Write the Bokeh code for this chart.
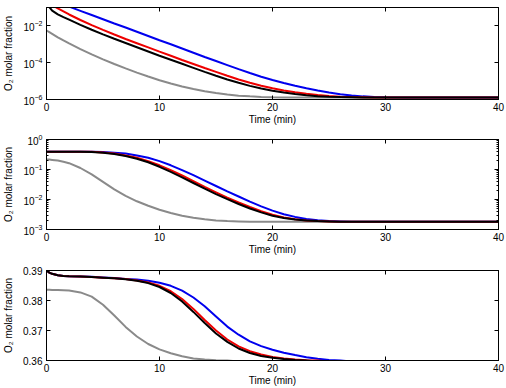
import numpy as np
from bokeh.plotting import figure
from bokeh.layouts import column
from bokeh.models import (FixedTicker, LinearAxis, LogAxis, LogTickFormatter,
                          CustomJSTickFormatter, Range1d)
from bokeh.embed import file_html
from bokeh.resources import INLINE

FONT = "Liberation Sans"

# Sample times (min)
time_min = [0, 0.25, 0.5, 1, 1.5, 2, 3, 4, 5, 6, 7, 8, 9, 10, 11, 12, 13, 14, 15,
            16, 17, 18, 19, 20, 21, 22, 23, 24, 25, 26, 27, 28, 29, 30, 32, 35, 40]

# Top panel: log10 of O2 molar fraction
top_blue = [-0.50, -0.56, -0.61, -0.73, -0.84, -0.95, -1.18, -1.41, -1.64, -1.87, -2.09,
            -2.32, -2.55, -2.78, -3.00, -3.23, -3.46, -3.69, -3.91, -4.13, -4.35, -4.56,
            -4.76, -4.94, -5.10, -5.25, -5.39, -5.51, -5.62, -5.71, -5.78, -5.83, -5.86,
            -5.88, -5.89, -5.89, -5.89]
top_red = [-0.70, -0.79, -0.87, -1.05, -1.21, -1.38, -1.68, -1.96, -2.22, -2.47, -2.71,
           -2.94, -3.17, -3.40, -3.62, -3.85, -4.07, -4.29, -4.50, -4.71, -4.91, -5.09,
           -5.25, -5.39, -5.51, -5.61, -5.69, -5.76, -5.81, -5.85, -5.87, -5.88, -5.89,
           -5.89, -5.89, -5.89, -5.89]
top_black = [-0.60, -0.98, -1.17, -1.37, -1.52, -1.66, -1.94, -2.21, -2.46, -2.70, -2.93,
             -3.16, -3.39, -3.62, -3.84, -4.06, -4.28, -4.50, -4.71, -4.91, -5.09, -5.26,
             -5.40, -5.52, -5.62, -5.70, -5.77, -5.82, -5.85, -5.87, -5.88, -5.89, -5.89,
             -5.89, -5.89, -5.89, -5.89]
top_gray = [-2.25, -2.34, -2.43, -2.62, -2.79, -2.95, -3.26, -3.55, -3.82, -4.07, -4.31,
            -4.54, -4.75, -4.95, -5.13, -5.29, -5.43, -5.55, -5.65, -5.73, -5.79, -5.83,
            -5.86, -5.88, -5.89, -5.89, -5.89, -5.89, -5.89, -5.89, -5.89, -5.89, -5.89,
            -5.89, -5.89, -5.89, -5.89]

# Middle panel: log10 of O2 molar fraction
mid_blue = [-0.41, -0.41, -0.41, -0.41, -0.41, -0.41, -0.41, -0.41, -0.42, -0.44, -0.47,
            -0.53, -0.61, -0.72, -0.86, -1.02, -1.19, -1.37, -1.55, -1.73, -1.90, -2.07,
            -2.23, -2.37, -2.49, -2.58, -2.65, -2.69, -2.72, -2.73, -2.74, -2.74, -2.74,
            -2.74, -2.74, -2.74, -2.74]
mid_red = [-0.41, -0.41, -0.41, -0.41, -0.41, -0.41, -0.41, -0.41, -0.43, -0.47, -0.53,
           -0.61, -0.72, -0.86, -1.02, -1.20, -1.39, -1.58, -1.76, -1.94, -2.10, -2.25,
           -2.39, -2.51, -2.60, -2.66, -2.70, -2.72, -2.73, -2.74, -2.74, -2.74, -2.74,
           -2.74, -2.74, -2.74, -2.74]
mid_black = [-0.41, -0.41, -0.41, -0.41, -0.41, -0.41, -0.41, -0.42, -0.44, -0.48, -0.55,
             -0.64, -0.76, -0.91, -1.08, -1.26, -1.45, -1.64, -1.82, -1.99, -2.15, -2.30,
             -2.43, -2.54, -2.62, -2.67, -2.70, -2.72, -2.73, -2.74, -2.74, -2.74, -2.74,
             -2.74, -2.74, -2.74, -2.74]
mid_gray = [-0.67, -0.67, -0.68, -0.70, -0.74, -0.79, -0.95, -1.16, -1.41, -1.66, -1.88,
            -2.06, -2.21, -2.34, -2.45, -2.54, -2.61, -2.66, -2.70, -2.72, -2.73, -2.74,
            -2.74, -2.74, -2.74, -2.74, -2.74, -2.74, -2.74, -2.74, -2.74, -2.74, -2.74,
            -2.74, -2.74, -2.74, -2.74]

# Bottom panel: O2 molar fraction
low_blue = [0.3900, 0.3893, 0.3889, 0.3884, 0.3882, 0.3881, 0.3880, 0.3879, 0.3877, 0.3875,
            0.3872, 0.3870, 0.3866, 0.3859, 0.3849, 0.3833, 0.3810, 0.3781, 0.3747, 0.3713,
            0.3686, 0.3664, 0.3648, 0.3636, 0.3626, 0.3618, 0.3611, 0.3606, 0.3602, 0.3600,
            0.3597, 0.3597, 0.3597, 0.3597, 0.3597, 0.3597, 0.3597]
low_red = [0.3900, 0.3893, 0.3889, 0.3884, 0.3882, 0.3881, 0.3880, 0.3878, 0.3876, 0.3874,
           0.3872, 0.3867, 0.3860, 0.3849, 0.3831, 0.3805, 0.3772, 0.3735, 0.3700, 0.3670,
           0.3647, 0.3631, 0.3620, 0.3612, 0.3607, 0.3603, 0.3601, 0.3600, 0.3597, 0.3597,
           0.3597, 0.3597, 0.3597, 0.3597, 0.3597, 0.3597, 0.3597]
low_black = [0.3900, 0.3893, 0.3889, 0.3884, 0.3882, 0.3881, 0.3880, 0.3878, 0.3876, 0.3874,
             0.3871, 0.3866, 0.3858, 0.3845, 0.3825, 0.3797, 0.3762, 0.3725, 0.3690, 0.3662,
             0.3640, 0.3625, 0.3615, 0.3609, 0.3605, 0.3602, 0.3600, 0.3597, 0.3597, 0.3597,
             0.3597, 0.3597, 0.3597, 0.3597, 0.3597, 0.3597, 0.3597]
low_gray = [0.3836, 0.3836, 0.3835, 0.3835, 0.3834, 0.3833, 0.3827, 0.3813, 0.3786, 0.3750,
            0.3712, 0.3680, 0.3655, 0.3637, 0.3624, 0.3614, 0.3607, 0.3603, 0.3601, 0.3600,
            0.3597, 0.3597, 0.3597, 0.3597, 0.3597, 0.3597, 0.3597, 0.3597, 0.3597, 0.3597,
            0.3597, 0.3597, 0.3597, 0.3597, 0.3597, 0.3597, 0.3597]

x_ticks = [0, 10, 20, 30, 40]
top_yticks = [1e-6, 1e-4, 1e-2]
mid_yticks = [1e-3, 1e-2, 1e-1, 1e0]
low_yticks = [0.36, 0.37, 0.38, 0.39]

COLORS = {"gray": "#8a8a8a", "blue": "#0000ee", "red": "#ee0000", "black": "#000000"}

blank_fmt = CustomJSTickFormatter(code="return '';")


def style_axis(ax):
    ax.axis_line_color = "black"
    ax.major_tick_line_color = "black"
    ax.minor_tick_line_color = "black"
    ax.major_tick_in = 4
    ax.major_tick_out = 0
    ax.minor_tick_in = 2
    ax.minor_tick_out = 0
    ax.major_label_text_font = FONT
    ax.major_label_text_font_size = "10px"
    ax.major_label_text_color = "black"
    ax.axis_label_text_font = FONT
    ax.axis_label_text_font_size = "10px"
    ax.axis_label_text_font_style = "normal"
    ax.axis_label_text_color = "black"


def make_panel(height, top, bottom, log, y_range, yticks, minor, series):
    p = figure(width=506, height=height, x_range=Range1d(0, 40), y_range=Range1d(*y_range),
               y_axis_type="log" if log else "linear", output_backend="svg",
               toolbar_location=None, min_border_left=45, min_border_right=8,
               min_border_top=top, min_border_bottom=bottom)
    p.xgrid.visible = False
    p.ygrid.visible = False
    p.outline_line_color = "black"
    p.background_fill_color = "white"
    p.border_fill_color = "white"

    for name, vals in series:
        y = 10.0 ** np.array(vals) if log else np.array(vals)
        p.line(time_min, y, line_color=COLORS[name], line_width=2)

    xa = p.xaxis[0]
    xa.ticker = FixedTicker(ticks=x_ticks, minor_ticks=[])
    xa.axis_label = "Time (min)"
    style_axis(xa)
    xa.major_label_standoff = 3
    xa.axis_label_standoff = 0

    ya = p.yaxis[0]
    ya.ticker = FixedTicker(ticks=yticks, minor_ticks=minor)
    ya.axis_label = "O\u2082 molar fraction"
    if log:
        ya.formatter = LogTickFormatter(min_exponent=0)
    style_axis(ya)
    ya.major_label_standoff = 4
    ya.axis_label_standoff = 6

    top_ax = LinearAxis(ticker=FixedTicker(ticks=x_ticks, minor_ticks=[]), formatter=blank_fmt)
    right_ax = (LogAxis if log else LinearAxis)(ticker=FixedTicker(ticks=yticks, minor_ticks=minor),
                                               formatter=blank_fmt)
    for ax in (top_ax, right_ax):
        style_axis(ax)
        ax.major_label_standoff = 0
        ax.major_label_text_font_size = "0px"
    p.add_layout(top_ax, "above")
    p.add_layout(right_ax, "right")
    return p


mid_minor = [m * 10.0 ** k for k in range(-3, 0) for m in range(2, 10)]

p1 = make_panel(129, 7, 30, True, (1e-6, 1e-1), top_yticks, [],
                [("gray", top_gray), ("blue", top_blue), ("red", top_red), ("black", top_black)])
p2 = make_panel(130, 10, 30, True, (1e-3, 1e0), mid_yticks, mid_minor,
                [("gray", mid_gray), ("blue", mid_blue), ("red", mid_red), ("black", mid_black)])
p3 = make_panel(129, 11, 27, False, (0.36, 0.39), low_yticks, [],
                [("gray", low_gray), ("blue", low_blue), ("red", low_red), ("black", low_black)])

layout = column(p1, p2, p3, spacing=0)
open("out.html", "w").write(file_html(layout, INLINE))
